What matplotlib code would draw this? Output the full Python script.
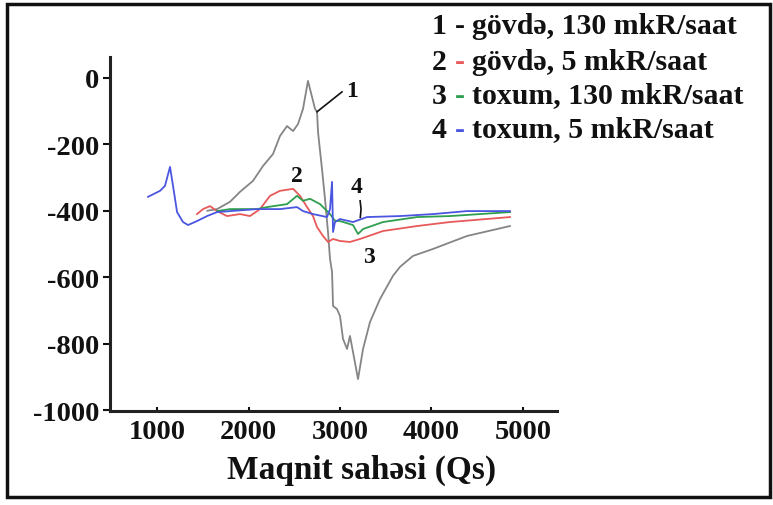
import matplotlib
matplotlib.use("Agg")
import matplotlib.pyplot as plt
from matplotlib.patches import Rectangle

# ---- data ----
x1 = [1550, 1656, 1798, 1907, 2049, 2159, 2268, 2344, 2421, 2487, 2541, 2596, 2650,
      2727, 2749, 2760, 2803, 2836, 2869, 2891, 2913, 2924, 2967, 3000, 3033, 3077,
      3109, 3142, 3197, 3252, 3328, 3437, 3579, 3656, 3798, 4017, 4388, 4858]
y1 = [-400, -395, -373, -343, -310, -265, -229, -175, -145, -160, -139, -93, -9,
      -93, -102, -163, -274, -364, -464, -545, -584, -687, -696, -717, -786, -816,
      -777, -825, -907, -816, -735, -666, -596, -569, -536, -515, -476, -446]

x2 = [1437, 1503, 1579, 1656, 1765, 1907, 2016, 2126, 2235, 2344, 2487, 2563, 2640,
      2705, 2749, 2814, 2869, 2924, 3000, 3109, 3219, 3470, 3842, 4202, 4858]
y2 = [-410, -395, -386, -401, -416, -410, -416, -395, -355, -340, -334, -355, -389,
      -416, -449, -476, -494, -485, -491, -494, -485, -461, -446, -434, -419]

x3 = [1656, 1798, 2093, 2202, 2421, 2530, 2596, 2672, 2782, 2858, 2891, 2945, 3000,
      3142, 3197, 3252, 3470, 3842, 4202, 4858]
y3 = [-401, -395, -395, -389, -380, -355, -370, -364, -380, -401, -410, -430, -431,
      -443, -470, -455, -434, -419, -416, -404]

x4 = [902, 1033, 1087, 1142, 1175, 1219, 1284, 1339, 1437, 1547, 1656, 2093, 2344,
      2530, 2596, 2705, 2858, 2891, 2913, 2924, 2945, 3000, 3142, 3295, 3656, 4017,
      4388, 4858]
y4 = [-358, -340, -325, -268, -325, -404, -434, -443, -431, -416, -404, -395, -395,
      -389, -401, -410, -419, -395, -313, -464, -434, -425, -434, -419, -416, -410,
      -401, -401]

xticks = [1000, 2000, 3000, 4000, 5000]
yticks = [0, -200, -400, -600, -800, -1000]
legend_nums = ["1", "2", "3", "4"]
legend_texts = ["gövdə, 130 mkR/saat", "gövdə, 5 mkR/saat",
                "toxum, 130 mkR/saat", "toxum, 5 mkR/saat"]
xlabel = "Maqnit sahəsi (Qs)"

# ---- figure ----
W, H = 773, 506
fig = plt.figure(figsize=(W / 100, H / 100), dpi=100)
fam = ["Liberation Serif", "DejaVu Serif"]

ax = fig.add_axes([110 / W, 1 - 412 / H, (557 - 110) / W, (412 - 58) / H])
colors = ["#858585", "#e85a5a", "#2f9e4f", "#4a55e0"]
ax.plot(x1, y1, color=colors[0], lw=1.3, zorder=2)
ax.plot(x2, y2, color=colors[1], lw=1.3, zorder=3)
ax.plot(x3, y3, color=colors[2], lw=1.3, zorder=4)
ax.plot(x4, y4, color=colors[3], lw=1.3, zorder=5)

ax.set_xlim(486, 5372)
ax.set_ylim(-1003, 63)
for s in ["top", "right"]:
    ax.spines[s].set_visible(False)
for s in ["left", "bottom"]:
    ax.spines[s].set_linewidth(2.2)
    ax.spines[s].set_color("#222222")

ax.set_xticks(xticks)
ax.set_yticks(yticks)
ax.set_xticklabels([str(v) for v in xticks], family=fam, fontweight="bold", fontsize=20.5)
ax.set_yticklabels([str(v) for v in yticks], family=fam, fontweight="bold", fontsize=20.5)
ax.tick_params(axis="y", direction="out", length=5, width=1.5, pad=3, colors="#111111")
ax.tick_params(axis="x", direction="in", length=3, width=1.5, pad=6, colors="#111111")

# curve labels
lab_kw = dict(family=fam, fontweight="bold", fontsize=17, ha="center", va="center", color="#111111")
ax.text(3131, -39, "1", **lab_kw)
ax.text(2530, -295, "2", **lab_kw)
ax.text(3317, -539, "3", **lab_kw)
ax.text(3186, -328, "4", **lab_kw)
ax.plot([2749, 3022], [-102, -42], color="#111111", lw=1.2)
ax.plot([3220, 3230, 3222], [-370, -395, -420], color="#111111", lw=1.2)

# x label
fig.text(362 / W, 1 - 470 / H, xlabel, family=fam, fontweight="bold", fontsize=24,
         ha="center", va="center", color="#111111")

# legend as text lines: number, coloured dash, description (non-overlapping pieces)
renderer = fig.canvas.get_renderer()
ys = [27, 62, 96, 130]
fs = 21.5
x0 = 432
for num, txt, c, yp in zip(legend_nums, legend_texts, colors, ys):
    kw = dict(family=fam, fontweight="bold", fontsize=fs, va="center")
    yy = 1 - yp / H
    tmp_full = fig.text(x0 / W, yy, f"{num} - {txt}", ha="left", **kw)
    tmp_dash = fig.text(x0 / W, yy, f"{num} -", ha="left", **kw)
    full_r = tmp_full.get_window_extent(renderer).x1
    dash_r = tmp_dash.get_window_extent(renderer).x1
    tmp_full.remove()
    tmp_dash.remove()
    dash_c = "#111111" if num == "1" else c
    fig.text(x0 / W, yy, num, ha="left", color="#111111", **kw)
    fig.text(dash_r / W, yy, "-", ha="right", color=dash_c, **kw)
    fig.text(full_r / W, yy, txt, ha="right", color="#111111", **kw)

# frame around the figure
fig.patches.append(Rectangle((7 / W, 1 - 498 / H), (770 - 7) / W, (498 - 5) / H,
                             transform=fig.transFigure, fill=False, lw=2.5,
                             edgecolor="#111111"))

fig.savefig("out.png", dpi=100)
